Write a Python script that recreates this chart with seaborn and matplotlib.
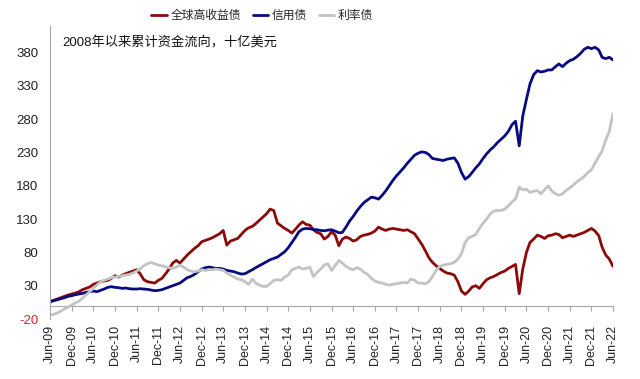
import numpy as np
import pandas as pd
import matplotlib
matplotlib.use("Agg")
import matplotlib.pyplot as plt
import matplotlib.dates as mdates
import seaborn as sns

# ---------------- data (monthly, Jun-2009 .. Jun-2022), billions USD ----------------
start_month = "2009-06-01"
end_month = "2022-06-01"

series_names = ["全球高收益债", "信用债", "利率债"]

high_yield = [
    6, 8, 10, 12, 14, 16, 17.5, 19, 21, 24, 26, 28, 32, 34, 36, 37, 38, 41, 45, 43,
    46, 48, 50, 52, 54, 48, 39, 36, 35, 34, 38, 41, 48, 55, 64, 68, 64, 70, 76, 81,
    86, 90, 96, 98, 100, 102, 105, 108, 113, 91, 97, 99, 101, 107, 113, 117, 119, 123, 128, 133,
    138, 145, 143, 124, 120, 116, 113, 109, 115, 121, 126, 122, 121, 114, 110, 108, 100, 104, 111, 106,
    90, 100, 103, 101, 97, 99, 104, 106, 107, 109, 112, 118, 115, 113, 115, 116, 115, 114, 113, 114,
    111, 108, 100, 92, 82, 72, 65, 60, 56, 52, 49, 48, 46, 36, 22, 17, 22, 28, 30, 26,
    33, 39, 42, 44, 47, 50, 52, 56, 59, 62, 18, 55, 80, 95, 100, 106, 104, 101, 105, 106,
    108, 107, 102, 104, 106, 104, 106, 108, 110, 113, 116, 112, 105, 88, 76, 70, 59,
]

credit = [
    6, 7.5, 9, 10.5, 12, 14, 15, 16.5, 17.5, 18.5, 20, 21, 22, 21, 23, 25, 27.5, 28.5, 27.5, 27,
    26, 26.5, 25.5, 25, 25, 25.5, 25, 24.5, 23.5, 22.5, 23, 24, 26, 28, 30, 32, 34, 38, 42, 44,
    47, 51, 55, 57, 58, 57, 56, 56, 55, 53, 52, 51, 49, 47.5, 48, 51, 54, 57, 60, 63,
    66, 69, 71, 73, 77, 81, 87, 95, 103, 111, 115, 116, 115.5, 114.5, 114, 113, 112.5, 113.5, 114, 112,
    109.5, 110, 118, 127, 134, 142, 149, 155, 159, 163, 162, 160, 166, 172, 180, 188, 195, 201, 207, 214,
    220, 226, 229, 231, 230, 227, 221, 220, 219, 218, 220, 221, 222, 214, 200, 190, 194, 200, 207, 213,
    221, 228, 234, 239, 245, 250, 255, 262, 272, 277, 240, 285, 310, 333, 347, 353, 351, 352, 354, 354,
    359, 363, 359, 364, 368, 370, 374, 379, 385, 388, 386, 388, 384, 373, 371, 373, 369,
]

rates = [
    -14, -13, -11, -8, -5, -2, 1, 4, 7, 11, 16, 21, 26, 31, 36, 38, 40, 42, 43, 44,
    45, 46, 47, 49, 52, 55, 60, 63, 65, 63, 61, 60, 58, 57, 56, 58, 61, 58, 54, 52,
    51, 52, 54, 53, 54, 54, 55, 54, 53, 49, 46, 43, 40, 39, 36, 32, 40, 34, 31, 29,
    29, 33, 38, 39, 38, 43, 46, 54, 56, 58, 55, 56, 58, 44, 50, 55, 61, 63, 53, 60,
    68, 64, 59, 56, 54, 57, 55, 50, 47, 41, 37, 35, 34, 32, 31, 32, 33, 34, 35, 34,
    40, 38, 34, 34, 33, 36, 44, 53, 59, 61, 62, 63, 65, 70, 78, 95, 102, 104, 107, 116,
    124, 130, 138, 142, 143, 143, 145, 150, 156, 160, 178, 174, 175, 170, 172, 173, 168, 174, 180, 172,
    168, 166, 168, 173, 177, 181, 186, 190, 194, 200, 204, 214, 224, 232, 249, 262, 288,
]

y_ticks = [-20, 30, 80, 130, 180, 230, 280, 330, 380]
annotation = "2008年以来累计资金流向，十亿美元"

# ---------------- build table ----------------
dates = pd.date_range(start_month, end_month, freq="MS")
xnum = mdates.date2num(dates.to_pydatetime())
df = pd.concat([
    pd.DataFrame({"x": xnum, "value": vals, "series": name})
    for name, vals in zip(series_names, [high_yield, credit, rates])
], ignore_index=True)

tick_dates = pd.date_range(start_month, end_month, freq="6MS")
tick_nums = mdates.date2num(tick_dates.to_pydatetime())
tick_labels = [d.strftime("%b-%y") for d in tick_dates]

# ---------------- style ----------------
sns.set_style("white")
plt.rcParams["font.family"] = ["Liberation Sans", "Noto Sans CJK SC", "DejaVu Sans"]
plt.rcParams["axes.unicode_minus"] = False

palette = {"全球高收益债": "#8B0A0A", "信用债": "#0A0A80", "利率债": "#C3C3C3"}
axis_gray = "#A6A6A6"

fig = plt.figure(figsize=(6.4, 3.79), dpi=100)
W, H = 640, 379
left, right, top, bottom = 50, 613, 26, 319
ax = fig.add_axes([left / W, 1 - bottom / H, (right - left) / W, (bottom - top) / H])

sns.lineplot(data=df, x="x", y="value", hue="series", hue_order=series_names,
             palette=palette, linewidth=2.0, ax=ax, legend=False)

ax.set_xlim(xnum[0], xnum[-1])
ax.set_ylim(-20, 420)
ax.set_xlabel("")
ax.set_ylabel("")

for s in ["top", "right", "bottom"]:
    ax.spines[s].set_visible(False)
ax.spines["left"].set_color(axis_gray)
ax.spines["left"].set_linewidth(0.8)

ax.set_yticks(y_ticks)
ax.set_yticklabels([str(v) for v in y_ticks])
ax.tick_params(axis="y", direction="out", length=3.5, width=0.8, color=axis_gray,
               labelsize=9.5, labelcolor="#222222", pad=5)
ax.get_yticklabels()[0].set_color("#E0202A")

ax.set_xticks(tick_nums)
ax.set_xticklabels(tick_labels, rotation=90)
ax.tick_params(axis="x", length=0, labelsize=9, labelcolor="#222222", pad=4)

# horizontal axis crossing at 0
ymin, ymax = ax.get_ylim()
sec = ax.secondary_xaxis((0 - ymin) / (ymax - ymin))
sec.set_xticks(tick_nums)
sec.tick_params(axis="x", direction="out", length=3.5, width=0.8, color=axis_gray,
                labelbottom=False, labeltop=False)
for s in sec.spines.values():
    s.set_color(axis_gray)
    s.set_linewidth(0.8)

# legend
from matplotlib.lines import Line2D
handles = [Line2D([], [], color=palette[n], lw=2.0) for n in series_names]
fig.legend(handles, series_names, loc="center", bbox_to_anchor=(262 / W, 1 - 16 / H),
           ncol=3, frameon=False, fontsize=8.5, handlelength=1.3, handletextpad=0.3,
           columnspacing=1.0)

fig.text(62 / W, 1 - 43 / H, annotation, ha="left", va="center", fontsize=9.5, color="#111111")

fig.savefig("out.png", dpi=100)
